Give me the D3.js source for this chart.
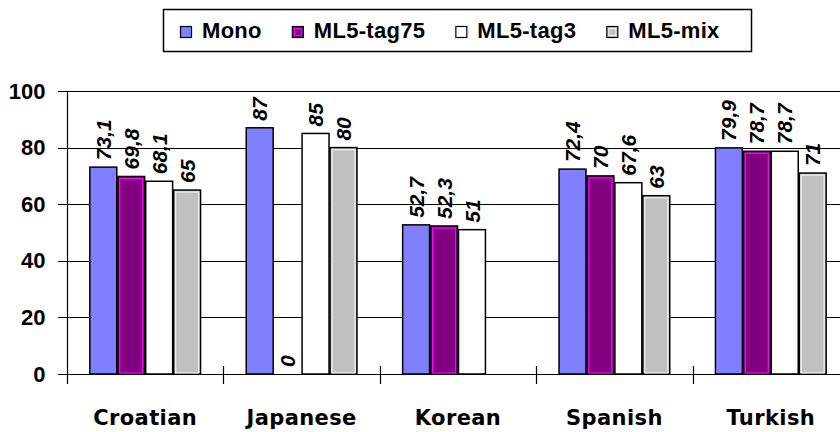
<!DOCTYPE html>
<html>
<head>
<meta charset="utf-8">
<script src="https://cdn.jsdelivr.net/npm/d3@7"></script>
<style>
  body { margin: 0; background: #fff; }
  svg { display: block; }
</style>
</head>
<body>
<div id="chart"></div>
<script>
// data
const categories = ["Croatian", "Japanese", "Korean", "Spanish", "Turkish"];
const seriesNames = ["Mono", "ML5-tag75", "ML5-tag3", "ML5-mix"];
const mono   = [73.1, 87, 52.7, 72.4, 79.9];
const tag75  = [69.8, 0, 52.3, 70, 78.7];
const tag3   = [68.1, 85, 51, 67.6, 78.7];
const mix    = [65, 80, null, 63, 71];
const yTicks = [0, 20, 40, 60, 80, 100];

const seriesValues = [mono, tag75, tag3, mix];

// look of each series (Excel-style fills, some with an inner border)
const fills  = ["#8080ff", "#800080", "#ffffff", "#c0c0c0"];
const inners = [null, "#ff00ff", null, "#f0f0f0"];

const W = 840, H = 432;
var margin = {top: 91, left: 67, bottom: 58},
    plotRight = 849,
    plotBottom = H - margin.bottom;

const svg = d3.select("#chart")
  .append("svg")
    .attr("width", W)
    .attr("height", H);

const x0 = d3.scaleBand()
  .domain(categories)
  .range([margin.left, plotRight])
  .padding(0);

const x1 = d3.scaleBand()
  .domain(seriesNames)
  .range([0, x0.bandwidth()])
  .paddingInner(0)
  .paddingOuter(0.8);

const y = d3.scaleLinear()
  .domain([0, 100])
  .range([plotBottom, margin.top]);

// horizontal gridlines
svg.append("g")
  .selectAll("line")
  .data(yTicks)
  .join("line")
    .attr("x1", margin.left - 9)
    .attr("x2", W)
    .attr("y1", d => Math.round(y(d)) + 0.5)
    .attr("y2", d => Math.round(y(d)) + 0.5)
    .attr("stroke", "#000")
    .attr("stroke-width", 1.2);

// y axis
const yAxis = svg.append("g")
  .attr("transform", `translate(${margin.left + 0.5},0)`)
  .call(d3.axisLeft(y).tickValues(yTicks).tickSize(9).tickPadding(13));
yAxis.select(".domain").remove();
yAxis.selectAll(".tick line").remove();
yAxis.selectAll("text")
  .style("font-family", "'Liberation Sans', Arial, sans-serif")
  .style("font-weight", "bold")
  .style("font-size", "22px")
  .attr("fill", "#000");

svg.append("line")
  .attr("x1", margin.left + 0.5).attr("x2", margin.left + 0.5)
  .attr("y1", margin.top).attr("y2", plotBottom + 10)
  .attr("stroke", "#000").attr("stroke-width", 1.2);

// category tick marks
svg.append("g")
  .selectAll("line")
  .data(categories.slice(1))
  .join("line")
    .attr("x1", d => Math.round(x0(d)) + 0.5)
    .attr("x2", d => Math.round(x0(d)) + 0.5)
    .attr("y1", plotBottom - 8)
    .attr("y2", plotBottom + 10)
    .attr("stroke", "#000")
    .attr("stroke-width", 1.2);

// bars
const bars = [];
seriesNames.forEach((s, si) => {
  categories.forEach((c, ci) => {
    const v = seriesValues[si][ci];
    if (v === null) return;
    bars.push({series: s, si: si, cat: c, value: v});
  });
});

const barG = svg.append("g")
  .selectAll("g")
  .data(bars)
  .join("g")
    .attr("transform", d => `translate(${x0(d.cat) + x1(d.series)},0)`);

barG.filter(d => d.value > 0)
  .append("rect")
    .attr("x", 0.5)
    .attr("y", d => y(d.value))
    .attr("width", x1.bandwidth() - 1)
    .attr("height", d => y(0) - y(d.value))
    .attr("fill", d => fills[d.si])
    .attr("stroke", "#000")
    .attr("stroke-width", 1.5);

barG.filter(d => d.value > 0 && inners[d.si])
  .append("rect")
    .attr("x", 2.5)
    .attr("y", d => y(d.value) + 2)
    .attr("width", x1.bandwidth() - 5)
    .attr("height", d => y(0) - y(d.value) - 3)
    .attr("fill", "none")
    .attr("stroke", d => inners[d.si])
    .attr("stroke-width", 1.2);

// rotated value labels
barG.append("text")
  .attr("transform", d => `translate(${x1.bandwidth() / 2},${y(d.value) - 7}) rotate(-90)`)
  .attr("dy", "0.36em")
  .attr("text-anchor", "start")
  .style("font-family", "'Liberation Sans', Arial, sans-serif")
  .style("font-style", "italic")
  .style("font-weight", "bold")
  .style("font-size", "21px")
  .attr("fill", "#000")
  .text(d => String(d.value).replace(".", ","));

// category labels
svg.append("g")
  .selectAll("text")
  .data(categories)
  .join("text")
    .attr("x", d => x0(d) + x0.bandwidth() / 2)
    .attr("y", plotBottom + 51)
    .attr("text-anchor", "middle")
    .style("font-family", "'DejaVu Sans', Verdana, sans-serif")
    .style("font-weight", "bold")
    .style("font-size", "21px")
    .style("letter-spacing", "0.4px")
    .attr("fill", "#000")
    .text(d => d);

// legend
const legend = svg.append("g");
legend.append("rect")
  .attr("x", 163.5).attr("y", 9.5)
  .attr("width", 588).attr("height", 42)
  .attr("fill", "#fff")
  .attr("stroke", "#000")
  .attr("stroke-width", 1.5);

let lx = 180;
seriesNames.forEach((s, i) => {
  const item = legend.append("g").attr("transform", `translate(${lx},0)`);
  item.append("rect")
    .attr("x", 0.5).attr("y", 26.5)
    .attr("width", 11).attr("height", 11)
    .attr("fill", fills[i])
    .attr("stroke", "#000")
    .attr("stroke-width", 1.2);
  if (inners[i]) {
    item.append("rect")
      .attr("x", 2.5).attr("y", 28.5)
      .attr("width", 7).attr("height", 7)
      .attr("fill", "none")
      .attr("stroke", inners[i])
      .attr("stroke-width", 1);
  }
  const t = item.append("text")
    .attr("x", 22)
    .attr("y", 38)
    .style("font-family", "'Liberation Sans', Arial, sans-serif")
    .style("font-weight", "bold")
    .style("font-size", "22px")
    .style("letter-spacing", "0.3px")
    .attr("fill", "#000")
    .text(s);
  lx += 22 + t.node().getComputedTextLength() + 30;
});
</script>
</body>
</html>
